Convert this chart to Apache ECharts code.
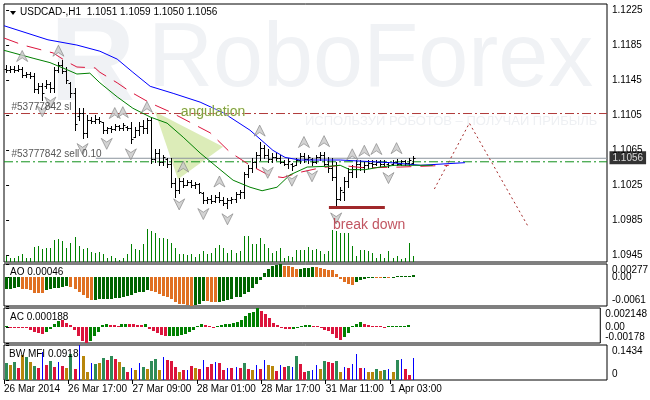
<!DOCTYPE html>
<html><head><meta charset="utf-8">
<script src="https://cdn.jsdelivr.net/npm/echarts@6/dist/echarts.min.js"></script>
<style>html,body{margin:0;padding:0;background:#fff}#c{width:650px;height:400px}</style>
</head><body><div id="c"></div>
<script>
// ---------- DATA ----------
const opens=[1.1158,1.1157,1.1158,1.1157,1.1158,1.1151,1.1152,1.1150,1.1135,1.1138,
1.1138,1.1141,1.1136,1.1157,1.1162,1.1156,1.1142,1.1130,1.1104,1.1108,
1.1085,1.1100,1.1099,1.1101,1.1097,1.1088,1.1090,1.1089,1.1093,1.1090,
1.1092,1.1090,1.1080,1.1088,1.1093,1.1090,1.1100,1.1055,1.1062,1.1052,
1.1055,1.1050,1.1028,1.1020,1.1030,1.1026,1.1029,1.1025,1.1027,1.1016,
1.1008,1.1010,1.1007,1.1012,1.1009,1.1005,1.1008,1.1010,1.1015,1.1018,
1.1038,1.1045,1.1052,1.1060,1.1068,1.1060,1.1055,1.1058,1.1056,1.1052,
1.1050,1.1050,1.1048,1.1054,1.1059,1.1055,1.1055,1.1052,1.1058,1.1060,
1.1050,1.1045,1.1035,1.1010,1.1018,1.1030,1.1040,1.1044,1.1050,1.1046,
1.1048,1.1051,1.1049,1.1052,1.1050,1.1050,1.1049,1.1052,1.1050,1.1053,
1.1051,1.1051];
const highs=[1.1162,1.1161,1.1161,1.1162,1.1160,1.1154,1.1154,1.1153,1.1142,1.1142,
1.1145,1.1143,1.1160,1.1166,1.1168,1.1160,1.1143,1.1136,1.1113,1.1113,
1.1105,1.1103,1.1105,1.1103,1.1097,1.1092,1.1093,1.1095,1.1094,1.1096,
1.1093,1.1097,1.1092,1.1097,1.1100,1.1102,1.1103,1.1066,1.1066,1.1060,
1.1056,1.1056,1.1034,1.1034,1.1034,1.1031,1.1031,1.1029,1.1028,1.1017,
1.1012,1.1014,1.1014,1.1017,1.1012,1.1011,1.1012,1.1017,1.1020,1.1040,
1.1048,1.1056,1.1063,1.1075,1.1071,1.1066,1.1062,1.1062,1.1060,1.1054,
1.1056,1.1051,1.1056,1.1062,1.1062,1.1060,1.1056,1.1060,1.1063,1.1063,
1.1058,1.1056,1.1052,1.1023,1.1035,1.1045,1.1048,1.1054,1.1054,1.1052,
1.1054,1.1054,1.1054,1.1054,1.1054,1.1052,1.1054,1.1055,1.1054,1.1054,
1.1056,1.1059];
const lows=[1.1154,1.1154,1.1154,1.1155,1.1149,1.1149,1.1148,1.1132,1.1130,1.1122,
1.1136,1.1132,1.1132,1.1154,1.1153,1.1142,1.1126,1.1088,1.1100,1.1079,
1.1080,1.1096,1.1096,1.1096,1.1085,1.1085,1.1086,1.1088,1.1088,1.1088,
1.1088,1.1073,1.1080,1.1083,1.1085,1.1085,1.1051,1.1052,1.1048,1.1048,
1.1046,1.1023,1.1012,1.1016,1.1023,1.1026,1.1023,1.1022,1.1016,1.1005,
1.1005,1.1005,1.1006,1.1006,1.1003,1.0999,1.1005,1.1006,1.1011,1.1011,
1.1035,1.1040,1.1045,1.1054,1.1056,1.1052,1.1052,1.1054,1.1051,1.1048,
1.1045,1.1043,1.1048,1.1051,1.1052,1.1051,1.1048,1.1051,1.1054,1.1048,
1.1040,1.1031,1.1000,1.1008,1.1008,1.1023,1.1035,1.1035,1.1043,1.1040,
1.1045,1.1046,1.1048,1.1046,1.1048,1.1046,1.1048,1.1048,1.1048,1.1048,
1.1048,1.1050];
const closes=[1.1157,1.1158,1.1157,1.1158,1.1151,1.1152,1.1150,1.1135,1.1138,1.1130,
1.1141,1.1136,1.1157,1.1162,1.1156,1.1145,1.1130,1.1095,1.1108,1.1085,
1.1100,1.1099,1.1101,1.1098,1.1088,1.1090,1.1089,1.1093,1.1090,1.1094,
1.1090,1.1078,1.1088,1.1093,1.1090,1.1100,1.1055,1.1062,1.1052,1.1057,
1.1050,1.1028,1.1020,1.1030,1.1026,1.1029,1.1025,1.1027,1.1018,1.1008,
1.1010,1.1007,1.1012,1.1009,1.1005,1.1008,1.1010,1.1015,1.1018,1.1038,
1.1045,1.1052,1.1060,1.1068,1.1060,1.1055,1.1058,1.1056,1.1052,1.1050,
1.1053,1.1047,1.1054,1.1059,1.1055,1.1057,1.1052,1.1058,1.1060,1.1050,
1.1045,1.1035,1.1010,1.1020,1.1030,1.1040,1.1044,1.1050,1.1046,1.1048,
1.1051,1.1049,1.1052,1.1050,1.1052,1.1048,1.1052,1.1050,1.1053,1.1051,
1.1054,1.1056];
const volumes=[240,160,160,240,320,160,160,600,640,520,
560,560,880,920,840,560,760,1000,640,520,
560,400,360,400,320,160,240,160,80,160,
320,720,520,480,720,1320,1240,1160,960,960,
920,760,560,320,320,280,320,200,320,440,
320,360,560,680,560,360,480,360,440,1040,
1040,720,720,960,720,560,360,440,560,160,
240,200,480,480,480,600,480,520,440,320,
440,1280,1240,1160,1160,1160,640,240,480,480,
440,360,160,320,160,440,160,240,120,160,
760,240];
// Alligator lines: [bar, price]
const jawLine=[[-0.5,1.1207],[10.4,1.1191],[17.6,1.1185],[23.3,1.1178],[27.6,1.1169],[31.5,1.1154],[35.8,1.1138],[41.5,1.1130],[48.2,1.1120],[53.9,1.1108],[60.6,1.1088],[66.3,1.1065],[69.3,1.1057],[73.0,1.1054],[83,1.1054],[95.4,1.1051],[103,1.1048],[114,1.1051]];
const teethLine=[[-0.5,1.1193],[4.2,1.1185],[11.7,1.1176],[15.1,1.1166],[17.6,1.1160],[22.1,1.1159],[23.3,1.1154],[27.6,1.1142],[30.8,1.1132],[35.8,1.1119],[40.7,1.1109],[45.7,1.1097],[50.7,1.1085],[55.6,1.1063],[60.6,1.1048],[65.6,1.1036],[68.8,1.1034],[73.0,1.1040],[78.0,1.1045],[83,1.1048],[89.2,1.1045],[97.9,1.1046],[110,1.1048]];
const lipsLine=[[-0.5,1.1179],[6.7,1.1170],[10.9,1.1165],[15.1,1.1157],[17.6,1.1152],[20.8,1.1153],[23.3,1.1142],[27.6,1.1126],[31.5,1.1113],[35.8,1.1103],[40.0,1.1096],[44.0,1.1080],[48.2,1.1062],[52.4,1.1046],[56.4,1.1031],[60.6,1.1023],[63.6,1.1019],[67.3,1.1023],[70.5,1.1037],[74.8,1.1046],[80.5,1.1047],[83.0,1.1048],[85.4,1.1043],[89.2,1.1043],[92.9,1.1046],[96.6,1.1048],[106,1.1048]];
const upFractals=[4,13,27,29,35,44,53,63,74,79,86,89,92,97];
const downFractals=[9,11,19,25,31,43,49,55,65,71,76,82,95];
const aoValues=[-0.00245,-0.00245,-0.0022,-0.0021,-0.00245,-0.0025,-0.0028,-0.0033,-0.00335,-0.0034,
-0.0028,-0.00245,-0.0024,-0.0023,-0.0021,-0.0019,-0.0021,-0.0025,-0.0032,-0.0037,
-0.0045,-0.0048,-0.00475,-0.0047,-0.00465,-0.0046,-0.00455,-0.0045,-0.0044,-0.0043,
-0.0039,-0.0037,-0.0034,-0.0032,-0.0031,-0.0028,-0.0029,-0.0032,-0.0036,-0.0039,
-0.0043,-0.0046,-0.0052,-0.0056,-0.0057,-0.0059,-0.0061,-0.0059,-0.0056,-0.0050,
-0.0051,-0.0052,-0.0053,-0.0052,-0.0050,-0.0048,-0.0046,-0.0043,-0.0041,-0.0036,
-0.0031,-0.0024,-0.0014,-0.0007,0.0008,0.0017,0.0023,0.0025,0.00277,0.0024,
0.0023,0.0021,0.0017,0.0018,0.0019,0.0020,0.0022,0.0021,0.0020,0.0018,
0.0016,0.0014,0.0007,-0.0004,-0.0010,-0.0015,-0.0016,-0.0011,-0.0006,-0.0004,
-0.0002,-0.0001,-0.00015,-0.0002,-0.0001,-0.00012,-0.00005,0.00003,0.0001,0.0002,
0.0003,0.00046];
const aoColors=('gggg'+'oooooo'+'gggggg'+'oooooo'+'gggggggggggggg'+'ooooooooooo'+'ggg'+'ooo'+'gggggggggggggggg'+'oooo'+'gggg'+'oooooooooo'+'ggggg'+'oo'+'g'+'o'+'gggggg').split('');
const acValues=[0.0001,-0.0001,-0.00012,-0.00005,-0.0001,-0.00012,-0.0003,-0.0005,-0.0007,-0.00075,
-0.0005,-0.0002,0.0003,0.0007,0.0008,0.0005,0.0002,-0.0003,-0.0010,-0.0016,
-0.00178,-0.0016,-0.0010,-0.0006,0.0002,0.0003,0.00025,0.0002,0.00018,0.0003,
0.0004,0.00035,0.0003,0.00025,0.0002,0.0003,-0.0002,-0.0004,-0.0007,-0.0009,
-0.0010,-0.00098,-0.00097,-0.00096,-0.0009,-0.0008,-0.0006,-0.0003,0.0001,0.0004,
0.0002,0.00005,-0.00005,0.00005,0.0002,0.0003,0.0004,0.0005,0.00055,0.0008,
0.0012,0.0016,0.0017,0.002148,0.00185,0.0015,0.0010,0.0005,0.0002,-0.0001,
-0.0002,-0.00025,-0.0002,-0.0001,0.0001,0.0002,0.00025,0.0001,0.00005,-0.0001,
-0.0003,-0.0004,-0.0008,-0.0012,-0.0014,-0.0011,-0.0007,0.00003,0.0004,0.0006,
0.0004,0.0002,0.0001,0.00005,0.00003,-0.00005,0.00003,0.00005,0.00007,0.0001,
0.00015,0.000188];
const acColors=('g'+'rrrrrrrrr'+'gggg'+'rrrrrrr'+'ggggg'+'rrr'+'gg'+'rrrr'+'g'+'rrrrr'+'ggggggggg'+'rrr'+'ggggggggggg'+'rrrrrrrr'+'ggggg'+'rrrrrrrr'+'ggggg'+'rrrrrr'+'gggggg').split('');
const mfiValues=[0.070,0.062,0.074,0.049,0.102,0.094,0.074,0.057,0.049,0.115,
0.062,0.078,0.053,0.074,0.057,0.049,0.107,0.045,0.1434,0.098,
0.033,0.070,0.066,0.070,0.090,0.082,0.098,0.086,0.074,0.053,
0.033,0.049,0.041,0.070,0.053,0.045,0.078,0.086,0.041,0.094,
0.082,0.078,0.053,0.033,0.041,0.041,0.057,0.049,0.045,0.082,
0.053,
0.0656,0.0737,0.0697,0.0410,0.0492,0.0492,0.0533,0.0492,0.0697,0.0451,
0.0410,0.0615,0.0451,0.0820,0.0615,0.0574,0.0369,0.0615,0.0533,0.0574,
0.0533,0.0983,0.0656,0.0328,0.0369,0.0410,0.0615,0.0451,0.0778,0.0737,
0.0697,0.0778,0.0328,0.0533,0.0492,0.0656,0.1065,0.0492,0.0492,0.0328,
0.0328,0.0451,0.0369,0.0410,0.0451,0.0328,0.0820,0.0860,0.0451,0.0205,0.0918];
const mfiColors=['s','g','s','r','g','s','g','s','r','b','r','s','r','b','r','g','s','r','b','g',
'g','b','s','g','s','r','s','r','g','s','r','b','g','b','s','g','s','s','g','b',
'r','r','r','g','r','b','r','g','r','b','r',
'r','b','r','r','b','r','b','r','s','r','g','b','r','b','g','g','r','b','r','s',
'b','s','r','r','s','b','b','g','s','r','r','s','g','b','r','b','b','r','b','g',
'g','s','g','s','b','g','s','b','r','r','b'];
const priceTicks=[1.0945,1.0985,1.1025,1.1065,1.1105,1.1145,1.1185,1.1225];
const timeLabels=['26 Mar 2014','26 Mar 17:00','27 Mar 09:00','28 Mar 01:00','28 Mar 17:00','31 Mar 11:00','1 Apr 03:00'];
const timeLabelBars=[-0.52,15.4,31.4,47.4,63.4,79.4,95.4];
const aoTicks=[-0.0061,0,0.00277], aoTickText=['-0.0061','0.00','0.00277'];
const acTicks=[-0.00178,0,0.002148], acTickText=['-0.00178','0.00','0.002148'];
const mfiTicks=[0,0.1434], mfiTickText=['0','0.1434'];
const slLevel=1.1107, orderLevel=1.1052, bidLevel=1.1056;
const forecastLine=[[106.4,1.1021],[115.1,1.1096],[129.6,1.0979]];
const breakLine=[[80.2,1.1000],[94.1,1.1000]];
const angTriangle=[[37.0,1.1109],[53.9,1.1069],[42.7,1.1032]];
const angText=[51.4,1.1109], breakText=[90.2,1.0980];

// ---------- CHART ----------
const FONT='Liberation Sans';
const X_MIN=-0.52, X_MAX=149.29;
const chart=echarts.init(document.getElementById('c'),null,{renderer:'canvas'});
const idx=a=>a.map((v,i)=>[i,v]);

function ohlcRender(p,api){
  const i=api.value(0);
  const o=api.coord([i,api.value(1)]),h=api.coord([i,api.value(2)]),l=api.coord([i,api.value(3)]),c=api.coord([i,api.value(4)]);
  const x=Math.round(h[0])+0.5;
  const st={stroke:'#000',lineWidth:1};
  return {type:'group',children:[
    {type:'line',shape:{x1:x,y1:Math.round(h[1]),x2:x,y2:Math.round(l[1])+1},style:st},
    {type:'line',shape:{x1:x-2,y1:Math.round(o[1])+0.5,x2:x,y2:Math.round(o[1])+0.5},style:st},
    {type:'line',shape:{x1:x,y1:Math.round(c[1])+0.5,x2:x+2,y2:Math.round(c[1])+0.5},style:st}
  ]};
}
function histRender(colors,map){
  return function(p,api){
    const i=api.value(0),v=api.value(1);
    const p0=api.coord([i,0]),p1=api.coord([i,v]);
    const k=colors?colors[p.dataIndex]:'v';
    const w=(k==='b'||k==='v')?1:3;
    let y0=Math.round(p0[1]),y1=Math.round(p1[1]);
    if(Math.abs(y1-y0)<1) y1=v>=0?y0-1:y0+1;
    const x=Math.round(p0[0])-(w===3?1:0);
    return {type:'rect',shape:{x:x,y:Math.min(y0,y1),width:w,height:Math.abs(y1-y0)},style:{fill:map[k]}};
  };
}
function subAxis(gi,min,max,ticks,texts,labelTicks){
  return {type:'value',gridIndex:gi,min:min,max:max,position:'right',
    axisLine:{show:false},splitLine:{show:false},
    axisTick:{show:true,customValues:ticks,length:3,lineStyle:{color:'#000'}},
    axisLabel:{customValues:labelTicks||ticks,hideOverlap:false,margin:5,color:'#000',fontSize:10,fontFamily:FONT,
      formatter:v=>{let k=ticks.findIndex(t=>Math.abs(t-v)<1e-9);if(k<0)return '';
        if(Math.abs(ticks[k]-max)<1e-9)return '{t|'+texts[k]+'}';
        if(Math.abs(ticks[k]-min)<1e-9)return '{b|'+texts[k]+'}';return texts[k];},
      rich:{t:{padding:[12,0,0,0],fontSize:10,fontFamily:FONT,color:'#000'},b:{padding:[0,0,12,0],fontSize:10,fontFamily:FONT,color:'#000'}}}};
}
const xa=(gi,show)=>({type:'value',gridIndex:gi,min:X_MIN,max:X_MAX,show:!!show,
  axisLine:{show:false},splitLine:{show:false},
  axisTick:{show:true,customValues:timeLabelBars,length:4,lineStyle:{color:'#000'}},
  axisLabel:{customValues:timeLabelBars,align:'left',margin:4,color:'#000',fontSize:10,fontFamily:FONT,
    formatter:v=>{const k=timeLabelBars.findIndex(t=>Math.abs(t-v)<0.01);return k<0?'':timeLabels[k];}}});
const fracUp='path://M6,0 L12,12 L6,8 L0,12 Z', fracDn='path://M0,0 L6,4 L12,0 L6,12 Z';
const levelLine=(x0,y,color,type)=>({type:'line',xAxisIndex:0,yAxisIndex:0,z:2,data:[[x0,y],[X_MAX,y]],
  showSymbol:false,silent:true,lineStyle:{color:color,width:1,type:type}});
const textMark=(pt,text,label,z)=>({type:'scatter',xAxisIndex:0,yAxisIndex:0,z:z||8,silent:true,clip:false,data:[pt],
  symbolSize:1,itemStyle:{color:'rgba(0,0,0,0)'},label:Object.assign({show:true,formatter:text,fontFamily:FONT},label)});

const option={
  animation:false,backgroundColor:'#fff',
  graphic:[
    {type:'text',z:-10,left:50,top:8,style:{text:'R',font:'bold 118px '+FONT,fill:'#f0f2f5'}},
    {type:'text',z:-10,left:148,top:16,style:{text:'RoboForex',font:'90px '+FONT,fill:'#f0f2f5'}},
    {type:'text',z:-10,left:305,top:115,style:{text:'ИСПОЛЬЗУЙ РОБОТОВ – ПОЛУЧАЙ ПРИБЫЛЬ',font:'13px '+FONT,fill:'#eef0f3'}},
    {type:'polygon',z:50,shape:{points:[[10,11],[16,11],[13,15]]},style:{fill:'#000'}},
    {type:'text',z:50,left:20,top:7,style:{text:'USDCAD-,H1  1.1051 1.1059 1.1050 1.1056',font:'10px '+FONT,fill:'#000'}},
    {type:'text',z:50,left:10,top:267,style:{text:'AO 0.00046',font:'10px '+FONT,fill:'#000'}},
    {type:'text',z:50,left:10,top:312,style:{text:'AC 0.000188',font:'10px '+FONT,fill:'#000'}},
    {type:'text',z:50,left:9,top:349,style:{text:'BW MFI 0.0918',font:'10px '+FONT,fill:'#000'}},
    {type:'text',z:50,left:612,top:265,style:{text:aoTickText[2],font:'10px '+FONT,fill:'#000'}}
  ],
  grid:[
    {left:4,top:4,width:603,height:258,show:true,borderColor:'#000',borderWidth:1},
    {left:4,top:222,width:603,height:40,show:false},
    {left:4,top:264,width:603,height:42,show:true,borderColor:'#000',borderWidth:1},
    {left:4,top:308,width:603,height:35,show:true,borderColor:'#000',borderWidth:1},
    {left:4,top:345,width:603,height:35,show:true,borderColor:'#000',borderWidth:1}
  ],
  xAxis:[xa(0),xa(1),xa(2),xa(3),xa(4,true)],
  yAxis:[
    {type:'value',gridIndex:0,min:1.09378,max:1.12318,position:'right',axisLine:{show:false},splitLine:{show:false},
      axisTick:{show:true,customValues:priceTicks,length:3,lineStyle:{color:'#000'}},
      axisLabel:{customValues:priceTicks,margin:5,color:'#000',fontSize:10,fontFamily:FONT,formatter:v=>v.toFixed(4)}},
    {type:'value',gridIndex:1,min:0,max:1600,show:false},
    subAxis(2,-0.0061,0.00277,aoTicks,aoTickText,aoTicks.slice(0,2)),
    subAxis(3,-0.00178,0.002148,acTicks,acTickText),
    subAxis(4,0,0.1434,mfiTicks,mfiTickText)
  ],
  series:[
    {type:'custom',xAxisIndex:0,yAxisIndex:0,z:1,silent:true,data:[[0,0]],
      renderItem:(p,api)=>({type:'polygon',shape:{points:angTriangle.map(pt=>api.coord(pt))},style:{fill:'#dcecb8'}})},
    {type:'custom',xAxisIndex:1,yAxisIndex:1,z:2,clip:true,silent:true,data:idx(volumes),encode:{x:0,y:1},
      renderItem:histRender(null,{v:'#008000'})},
    levelLine(X_MIN,slLevel,'#b03a3a',[9,3,2,3]),
    levelLine(X_MIN,orderLevel,'#10901a',[9,3,2,3]),
    levelLine(22.3,bidLevel,'#8c959e','solid'),
    textMark([X_MIN,slLevel],'#53777842 sl',{position:[8,-6],align:'left',verticalAlign:'middle',color:'#2a2a2a',fontSize:10}),
    textMark([X_MIN,orderLevel],'#53777842 sell 0.10',{position:[8,-7],align:'left',verticalAlign:'middle',color:'#2a2a2a',fontSize:10}),
    textMark([X_MAX,bidLevel],bidLevel.toFixed(4),{position:[3,0],align:'left',verticalAlign:'middle',color:'#fff',backgroundColor:'#000',padding:[2,3,1,3],fontSize:10},20),
    {type:'custom',xAxisIndex:0,yAxisIndex:0,z:3,clip:true,silent:true,
      data:opens.map((o,i)=>[i,o,highs[i],lows[i],closes[i]]),encode:{x:0,y:[1,2,3,4]},renderItem:ohlcRender},
    {type:'line',xAxisIndex:0,yAxisIndex:0,z:4,data:jawLine,showSymbol:false,silent:true,lineStyle:{color:'#0000ff',width:1}},
    {type:'line',xAxisIndex:0,yAxisIndex:0,z:4,data:teethLine,showSymbol:false,silent:true,lineStyle:{color:'#dc143c',width:1,type:[15,9]}},
    {type:'line',xAxisIndex:0,yAxisIndex:0,z:4,data:lipsLine,showSymbol:false,silent:true,lineStyle:{color:'#008000',width:1}},
    {type:'line',xAxisIndex:0,yAxisIndex:0,z:6,data:forecastLine,showSymbol:false,silent:true,lineStyle:{color:'#a52a2a',width:1,type:[2,3]}},
    {type:'line',xAxisIndex:0,yAxisIndex:0,z:6,data:breakLine,showSymbol:false,silent:true,lineStyle:{color:'#a0282a',width:3}},
    {type:'scatter',xAxisIndex:0,yAxisIndex:0,z:7,silent:true,data:upFractals.map(i=>[i,highs[i]]),symbol:fracUp,symbolSize:[11,11],symbolOffset:[0,-11],
      itemStyle:{color:'#c8c8c8',borderColor:'#808080',borderWidth:0.8}},
    {type:'scatter',xAxisIndex:0,yAxisIndex:0,z:7,silent:true,data:downFractals.map(i=>[i,lows[i]]),symbol:fracDn,symbolSize:[11,11],symbolOffset:[0,11],
      itemStyle:{color:'#c8c8c8',borderColor:'#808080',borderWidth:0.8}},
    textMark(angText,'angulation',{position:'inside',color:'#5f8a1a',fontSize:14,textBorderColor:'rgba(255,255,220,0.8)',textBorderWidth:1}),
    textMark(breakText,'break down',{position:'inside',color:'#b22a3a',fontSize:14}),
    {type:'custom',xAxisIndex:2,yAxisIndex:2,silent:true,data:idx(aoValues),encode:{x:0,y:1},
      renderItem:histRender(aoColors,{g:'#006400',o:'#e07022'})},
    {type:'custom',xAxisIndex:3,yAxisIndex:3,silent:true,data:idx(acValues),encode:{x:0,y:1},
      renderItem:histRender(acColors,{g:'#008000',r:'#dc143c'})},
    {type:'custom',xAxisIndex:4,yAxisIndex:4,silent:true,data:idx(mfiValues),encode:{x:0,y:1},
      renderItem:histRender(mfiColors,{s:'#2e8b57',g:'#b8860b',r:'#dc143c',b:'#0000ff'})}
  ]
};
chart.setOption(option);
</script></body></html>
